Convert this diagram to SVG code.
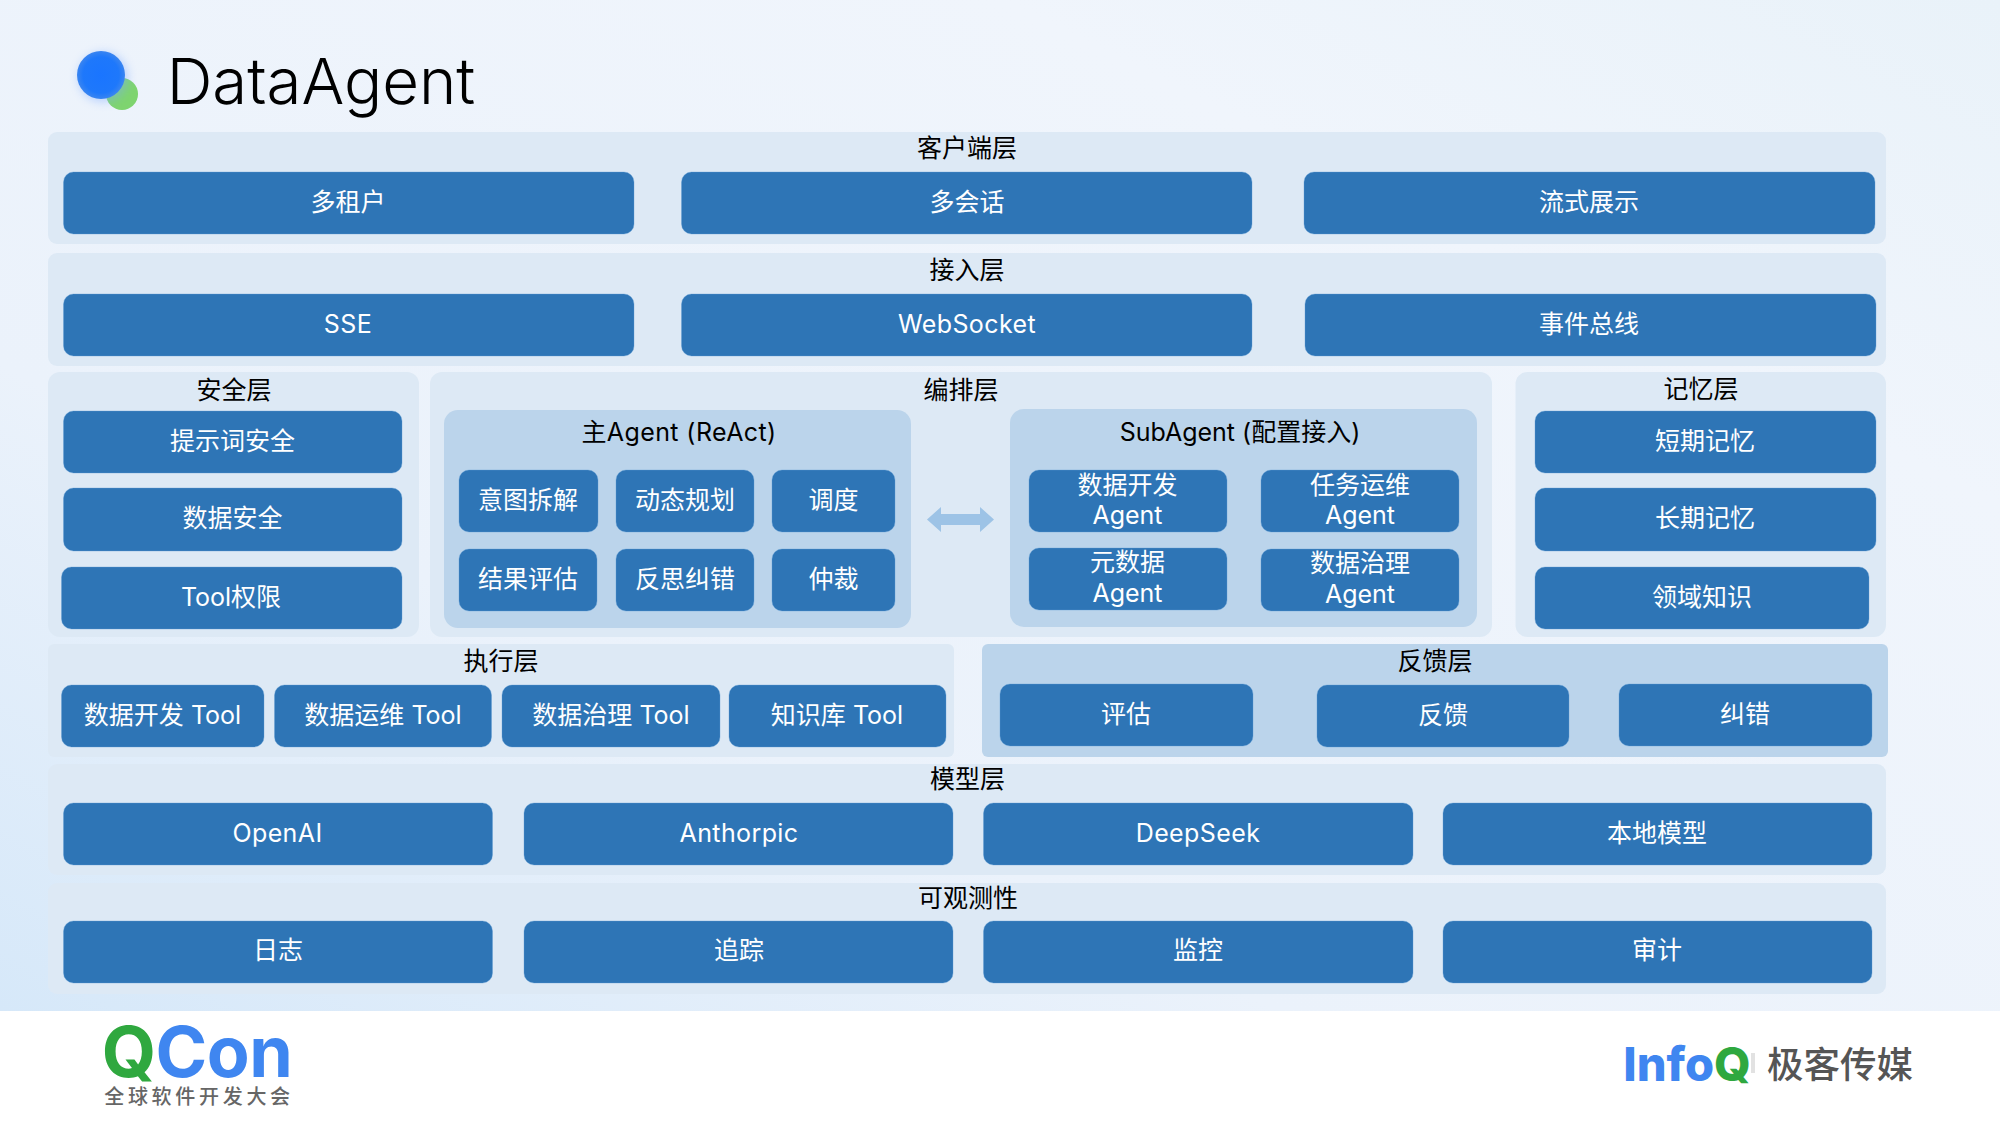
<svg xmlns="http://www.w3.org/2000/svg" width="2000" height="1125" viewBox="0 0 2000 1125">
<style>
text{font-family:Inter,"Noto Sans CJK SC","Noto Sans",sans-serif;text-anchor:middle}
.p{fill:#dde9f5}
.d{fill:#bbd4eb}
.b{fill:#2e75b6;stroke:#5b9bd5;stroke-opacity:.35;stroke-width:1}
.t{font-size:25px;fill:#fff}
.h{font-size:25px;fill:#000}
.l{letter-spacing:.4px}
</style>
<defs>
<linearGradient id="bg" x1="0" y1="1" x2="1" y2="0"><stop offset="0" stop-color="#d6e8f9"/><stop offset=".32" stop-color="#ebf2fb"/><stop offset=".75" stop-color="#f0f5fc"/><stop offset="1" stop-color="#e9f2f9"/></linearGradient>
<radialGradient id="bd"><stop offset="0" stop-color="#1a75ff"/><stop offset=".75" stop-color="#1e78fb"/><stop offset="1" stop-color="#3a85f0"/></radialGradient>
<filter id="gl" x="-40%" y="-40%" width="180%" height="180%"><feGaussianBlur stdDeviation="5"/></filter>
</defs>
<rect id="background" width="2000" height="1011" fill="url(#bg)"/>
<rect id="footer" y="1011" width="2000" height="114" fill="#fff"/>
<g id="title">
<ellipse cx="122" cy="94" rx="16" ry="16" fill="#7ed46f"/>
<circle cx="103" cy="77" r="25" fill="#7aa8ff" opacity=".45" filter="url(#gl)"/>
<circle cx="101" cy="75" r="24" fill="url(#bd)"/>
<text x="321" y="104" style="font-size:63.500px;font-weight:300">DataAgent</text>
</g>
<g id="layer-client"><rect class="p" x="48" y="132" width="1838" height="112" rx="9"/><text class="h" x="967" y="157">客户端层</text>
<g id="c1"><rect class="b" x="63.500" y="172" width="570.500" height="62" rx="10"/><text class="t" x="348" y="211">多租户</text></g>
<g id="c2"><rect class="b" x="681.500" y="172" width="570.500" height="62" rx="10"/><text class="t" x="967" y="211">多会话</text></g>
<g id="c3"><rect class="b" x="1304" y="172" width="571" height="62" rx="10"/><text class="t" x="1589" y="211">流式展示</text></g></g>
<g id="layer-access"><rect class="p" x="48" y="253" width="1838" height="113" rx="9"/><text class="h" x="967" y="279">接入层</text>
<g id="a1"><rect class="b" x="63.500" y="294" width="570.500" height="62" rx="10"/><text class="t l" x="348" y="333">SSE</text></g>
<g id="a2"><rect class="b" x="681.500" y="294" width="570.500" height="62" rx="10"/><text class="t l" x="967" y="333">WebSocket</text></g>
<g id="a3"><rect class="b" x="1305" y="294" width="571" height="62" rx="10"/><text class="t" x="1589" y="333">事件总线</text></g></g>
<g id="layer-security"><rect class="p" x="48" y="372" width="371" height="265" rx="12"/><text class="h" x="234" y="399">安全层</text>
<g id="s1"><rect class="b" x="63.500" y="411" width="338.500" height="62" rx="10"/><text class="t" x="232.500" y="450">提示词安全</text></g>
<g id="s2"><rect class="b" x="63.500" y="488" width="338.500" height="63" rx="10"/><text class="t" x="232.500" y="527">数据安全</text></g>
<g id="s3"><rect class="b" x="61.500" y="567" width="340.500" height="62" rx="10"/><text class="t" x="231" y="606">Tool权限</text></g></g>
<g id="layer-orchestration"><rect class="p" x="430" y="372" width="1062" height="265" rx="12"/><text class="h" x="961" y="399">编排层</text>
<g id="main-agent"><rect class="d" x="444" y="410" width="467" height="218" rx="14"/><text class="h l" x="679" y="441">主Agent (ReAct)</text>
<g id="m1"><rect class="b" x="459" y="470" width="139" height="62" rx="10"/><text class="t" x="528" y="509">意图拆解</text></g>
<g id="m2"><rect class="b" x="616" y="470" width="138" height="62" rx="10"/><text class="t" x="685" y="509">动态规划</text></g>
<g id="m3"><rect class="b" x="772" y="470" width="123" height="62" rx="10"/><text class="t" x="833.500" y="509">调度</text></g>
<g id="m4"><rect class="b" x="459" y="549" width="138" height="62" rx="10"/><text class="t" x="528" y="588">结果评估</text></g>
<g id="m5"><rect class="b" x="616" y="549" width="138" height="62" rx="10"/><text class="t" x="685" y="588">反思纠错</text></g>
<g id="m6"><rect class="b" x="772" y="549" width="123" height="62" rx="10"/><text class="t" x="833.500" y="588">仲裁</text></g></g>
<g id="sub-agent"><rect class="d" x="1010" y="409" width="467" height="218" rx="14"/><text class="h" x="1240" y="441">SubAgent (配置接入)</text>
<g id="n1"><rect class="b" x="1029" y="470" width="198" height="62" rx="10"/><text class="t"><tspan x="1127.500" y="494">数据开发</tspan><tspan x="1127.500" y="524">Agent</tspan></text></g>
<g id="n2"><rect class="b" x="1261" y="470" width="198" height="62" rx="10"/><text class="t"><tspan x="1360" y="494">任务运维</tspan><tspan x="1360" y="524">Agent</tspan></text></g>
<g id="n3"><rect class="b" x="1029" y="548" width="198" height="62" rx="10"/><text class="t"><tspan x="1127.500" y="571">元数据</tspan><tspan x="1127.500" y="602">Agent</tspan></text></g>
<g id="n4"><rect class="b" x="1261" y="549" width="198" height="62" rx="10"/><text class="t"><tspan x="1360" y="572">数据治理</tspan><tspan x="1360" y="603">Agent</tspan></text></g></g></g>
<g id="connectors"><path d="M927 519.500L941 507V514H980V507L994 519.500L980 532V525H941V532Z" fill="#9dc3e6"/></g>
<g id="layer-memory"><rect class="p" x="1515.500" y="372" width="370.500" height="265" rx="12"/><text class="h" x="1701" y="398">记忆层</text>
<g id="r1"><rect class="b" x="1535" y="411" width="341" height="62" rx="10"/><text class="t" x="1705" y="450">短期记忆</text></g>
<g id="r2"><rect class="b" x="1535" y="488" width="341" height="63" rx="10"/><text class="t" x="1705" y="527">长期记忆</text></g>
<g id="r3"><rect class="b" x="1535" y="567" width="334" height="62" rx="10"/><text class="t" x="1702" y="606">领域知识</text></g></g>
<g id="layer-execution"><rect class="p" x="48" y="644" width="906" height="113" rx="6"/><text class="h" x="501" y="670">执行层</text>
<g id="e1"><rect class="b" x="61.500" y="685" width="202.500" height="62" rx="10"/><text class="t" x="162.500" y="724">数据开发 Tool</text></g>
<g id="e2"><rect class="b" x="274.500" y="685" width="217" height="62" rx="10"/><text class="t" x="383" y="724">数据运维 Tool</text></g>
<g id="e3"><rect class="b" x="502" y="685" width="218" height="62" rx="10"/><text class="t" x="611" y="724">数据治理 Tool</text></g>
<g id="e4"><rect class="b" x="729" y="685" width="217" height="62" rx="10"/><text class="t" x="837" y="724">知识库 Tool</text></g></g>
<g id="layer-feedback"><rect class="d" x="982" y="644" width="906" height="113" rx="6"/><text class="h" x="1435" y="670">反馈层</text>
<g id="f1"><rect class="b" x="1000" y="684" width="253" height="62" rx="10"/><text class="t" x="1126" y="723">评估</text></g>
<g id="f2"><rect class="b" x="1317" y="685" width="252" height="62" rx="10"/><text class="t" x="1443" y="724">反馈</text></g>
<g id="f3"><rect class="b" x="1619" y="684" width="253" height="62" rx="10"/><text class="t" x="1745" y="723">纠错</text></g></g>
<g id="layer-model"><rect class="p" x="48" y="764" width="1838" height="111" rx="9"/><text class="h" x="967.500" y="788">模型层</text>
<g id="o1"><rect class="b" x="63.500" y="803" width="429" height="62" rx="10"/><text class="t l" x="277.500" y="842">OpenAI</text></g>
<g id="o2"><rect class="b" x="524" y="803" width="429" height="62" rx="10"/><text class="t l" x="739" y="842">Anthorpic</text></g>
<g id="o3"><rect class="b" x="983.500" y="803" width="429.500" height="62" rx="10"/><text class="t l" x="1198" y="842">DeepSeek</text></g>
<g id="o4"><rect class="b" x="1443" y="803" width="429" height="62" rx="10"/><text class="t" x="1657" y="842">本地模型</text></g></g>
<g id="layer-observability"><rect class="p" x="48" y="883" width="1838" height="111" rx="9"/><text class="h" x="968" y="907">可观测性</text>
<g id="v1"><rect class="b" x="63.500" y="921" width="429" height="62" rx="10"/><text class="t" x="278" y="959">日志</text></g>
<g id="v2"><rect class="b" x="524" y="921" width="429" height="62" rx="10"/><text class="t" x="739" y="959">追踪</text></g>
<g id="v3"><rect class="b" x="983.500" y="921" width="429.500" height="62" rx="10"/><text class="t" x="1198" y="959">监控</text></g>
<g id="v4"><rect class="b" x="1443" y="921" width="429" height="62" rx="10"/><text class="t" x="1657" y="959">审计</text></g></g>
<g id="logo-qcon">
<text x="197" y="1077" style="font-size:70px;font-weight:700;letter-spacing:-.5px"><tspan fill="#2fa83f">Q</tspan><tspan fill="#3f86f0">Con</tspan></text>
<text x="199" y="1104" style="font-size:20px;font-weight:500;fill:#666;letter-spacing:3.700px">全球软件开发大会</text>
</g>
<g id="logo-infoq">
<text x="1687" y="1081" style="font-size:47px;font-weight:800"><tspan fill="#3f86f0">Info</tspan><tspan fill="#2fa83f">Q</tspan></text>
<rect x="1751" y="1053" width="4" height="20" fill="#e2e2e2"/>
<text x="1840" y="1078" style="font-size:36.500px;font-weight:500;fill:#555">极客传媒</text>
</g>
</svg>
